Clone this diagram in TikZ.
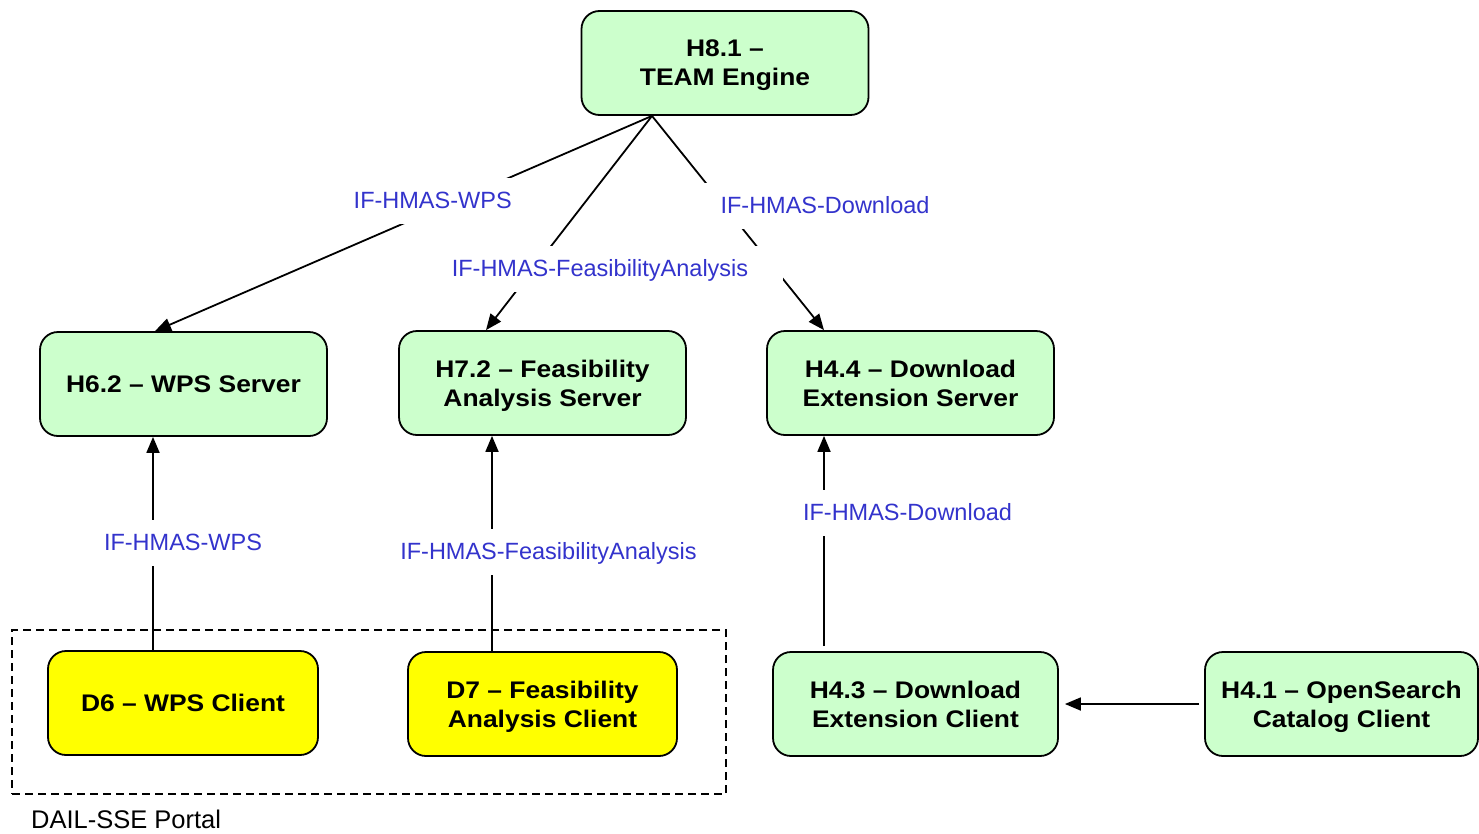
\documentclass[tikz,border=0pt]{standalone}
\usepackage{fontspec}
\setmainfont{Liberation Sans}
\newfontfamily\boxfont{Liberation Sans}[FakeStretch=1.1]
\usetikzlibrary{arrows.meta}
\definecolor{boxgreen}{HTML}{CCFFCC}
\definecolor{boxyellow}{HTML}{FFFF00}
\definecolor{ifblue}{HTML}{3333CC}

\begin{document}
\begin{tikzpicture}[x=1pt,y=-1pt,
  box/.style={draw=black, line width=1.8pt, rounded corners=18pt, align=center,
    minimum width=287pt, minimum height=104pt, inner sep=0pt, text depth=0pt,
    font=\boxfont\bfseries\fontsize{24}{29}\selectfont, text=black},
  server/.style={box, fill=boxgreen},
  client/.style={box, fill=boxyellow, minimum width=270pt},
  iflabel/.style={fill=white, text=ifblue, anchor=base,
    font=\fontsize{23.5}{28}\selectfont,
    inner xsep=35pt, inner ysep=0pt, text height=30pt, text depth=16pt},
  conn/.style={line width=1.8pt},
  arr/.style={conn, -{Triangle[length=16pt,width=13pt]}},
]
\useasboundingbox (0,0) rectangle (1479,833);

% components
\node[server] (h81) at (725,63) {H8.1 –\\TEAM Engine};
\node[server] (h62) at (183.5,384) {H6.2 – WPS Server};
\node[server] (h72) at (542.5,383) {H7.2 – Feasibility\\Analysis Server};
\node[server] (h44) at (910.5,383) {H4.4 – Download\\Extension Server};
\node[client] (d6) at (183,703) {D6 – WPS Client};
\node[client, minimum width=269pt] (d7) at (542.5,704) {D7 – Feasibility\\Analysis Client};
\node[server, minimum width=285pt] (h43) at (915.5,704) {H4.3 – Download\\Extension Client};
\node[server, minimum width=273pt] (h41) at (1341.5,704) {H4.1 – OpenSearch\\Catalog Client};

% portal grouping
\node[draw=black, line width=1.6pt, dash pattern=on 8pt off 5pt,
  minimum width=714pt, minimum height=164pt, inner sep=0pt] (portal) at (369,712) {};
\node[anchor=base west, inner sep=0pt, font=\fontsize{25.5}{30}\selectfont]
  (portallabel) at (31,828) {DAIL-SSE Portal};

% interfaces from the test engine
\coordinate (hub) at ([xshift=-73pt]h81.south);
\draw[arr] (hub) -- ([xshift=-28.5pt]h62.north);
\draw[arr] (hub) -- ([xshift=-56.5pt]h72.north);
\draw[arr] (hub) -- ([xshift=-86.5pt]h44.north);

% client to server interfaces
\draw[arr] ([xshift=-30pt]d6.north) -- ([xshift=-30pt]d6.north |- h62.south);
\draw[arr] ([xshift=-50.5pt]d7.north) -- ([xshift=-50.5pt]d7.north |- h72.south);
\draw[arr] ([xshift=-91.5pt,yshift=5pt]h43.north) -- ([xshift=-91.5pt]h43.north |- h44.south);
\draw[arr, shorten <=5pt, shorten >=6pt] (h41.west) -- (h43.east);

% interface labels
\node[iflabel] (lwps1) at (432.7,208.3) {IF-HMAS-WPS};
\node[iflabel] (lfa1) at (600,276) {IF-HMAS-FeasibilityAnalysis};
\node[iflabel] (ldl1) at (825,213.3) {IF-HMAS-Download};
\node[iflabel] (lwps2) at (183,550) {IF-HMAS-WPS};
\node[iflabel] (lfa2) at (548.5,559) {IF-HMAS-FeasibilityAnalysis};
\node[iflabel] (ldl2) at (907.5,520) {IF-HMAS-Download};
\end{tikzpicture}
\end{document}
